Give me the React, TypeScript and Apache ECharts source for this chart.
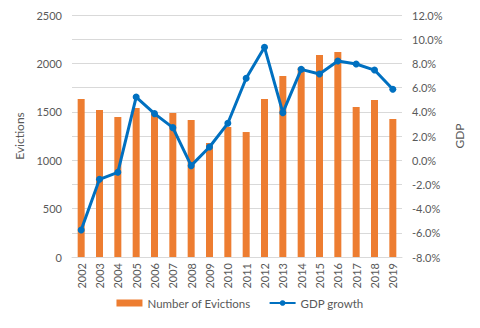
import React, { useEffect, useRef } from "react";
import * as echarts from "echarts";

const years = ["2002","2003","2004","2005","2006","2007","2008","2009","2010","2011","2012","2013","2014","2015","2016","2017","2018","2019"];
const evictions = [1632, 1519, 1446, 1539, 1476, 1488, 1415, 1178, 1343, 1291, 1632, 1870, 1955, 2087, 2118, 1550, 1622, 1426];
const gdpGrowth = [-5.77, -1.58, -1.0, 5.22, 3.85, 2.69, -0.45, 1.09, 3.05, 6.77, 9.33, 3.93, 7.51, 7.12, 8.2, 7.95, 7.45, 5.86];

const FONT = "Lato";
const TXT = "#595959";

export default function App() {
  const ref = useRef<HTMLDivElement>(null);
  useEffect(() => {
    const chart = echarts.init(ref.current!, null, { renderer: "svg" });
    chart.setOption({
      animation: false,
      textStyle: { fontFamily: FONT },
      grid: { left: 72, right: 78, top: 15, bottom: 71 },
      legend: {
        bottom: 14,
        left: "center",
        itemWidth: 26,
        itemHeight: 7,
        itemGap: 18,
        textStyle: { fontFamily: FONT, fontSize: 11.5, color: TXT },
        data: [
          { name: "Number of Evictions", icon: "rect" },
          { name: "GDP growth" },
        ],
      },
      xAxis: {
        type: "category",
        data: years,
        boundaryGap: true,
        axisLine: { lineStyle: { color: "#D9D9D9" } },
        axisTick: { show: false },
        axisLabel: { rotate: 90, color: TXT, fontSize: 11, fontFamily: FONT, margin: 6 },
      },
      yAxis: [
        {
          type: "value",
          min: 0,
          max: 2500,
          interval: 500,
          name: "Evictions",
          nameLocation: "middle",
          nameGap: 40,
          nameRotate: 90,
          nameTextStyle: { color: TXT, fontSize: 12, fontFamily: FONT },
          axisLine: { show: false },
          axisTick: { show: false },
          axisLabel: { color: TXT, fontSize: 11, fontFamily: FONT, margin: 10, formatter: (v: number) => String(v) },
          splitLine: { show: false },
        },
        {
          type: "value",
          min: -8,
          max: 12,
          interval: 2,
          name: "GDP",
          nameLocation: "middle",
          nameGap: 50,
          nameRotate: 90,
          nameTextStyle: { color: TXT, fontSize: 12, fontFamily: FONT },
          axisLine: { show: false },
          axisTick: { show: false },
          axisLabel: {
            color: TXT,
            fontSize: 11,
            fontFamily: FONT,
            margin: 10,
            formatter: (v: number) => v.toFixed(1) + "%",
          },
          splitLine: { show: true, lineStyle: { color: "#D9D9D9", width: 1 } },
        },
      ],
      series: [
        {
          name: "Number of Evictions",
          type: "bar",
          data: evictions,
          yAxisIndex: 0,
          barWidth: 7,
          itemStyle: { color: "#ED7D31" },
        },
        {
          name: "GDP growth",
          type: "line",
          data: gdpGrowth,
          yAxisIndex: 1,
          symbol: "circle",
          symbolSize: 7,
          lineStyle: { color: "#0070C0", width: 3 },
          itemStyle: { color: "#0070C0" },
        },
      ],
    });
    return () => chart.dispose();
  }, []);
  return <div ref={ref} style={{ width: 480, height: 328, position: "absolute", left: 0, top: 0, background: "#fff" }} />;
}
